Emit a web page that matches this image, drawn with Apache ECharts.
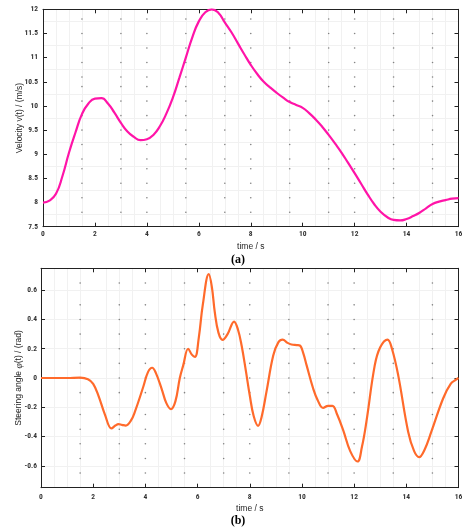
<!DOCTYPE html>
<html>
<head>
<meta charset="utf-8">
<script src="https://cdn.jsdelivr.net/npm/echarts@6/dist/echarts.min.js"></script>
<style>
  html, body { margin: 0; padding: 0; background: #fff; }
  #chart { width: 462px; height: 529px; }
</style>
</head>
<body>
<div id="chart"></div>
<script>
// (a) velocity, read every 0.25 s
const velTime = [0, 0.25, 0.5, 0.75, 1, 1.25, 1.5, 1.75, 2, 2.25, 2.5, 2.75, 3, 3.25, 3.5, 3.75,
  4, 4.25, 4.5, 4.75, 5, 5.25, 5.5, 5.75, 6, 6.25, 6.5, 6.75, 7, 7.25, 7.5, 7.75, 8, 8.25, 8.5,
  8.75, 9, 9.25, 9.5, 9.75, 10, 10.25, 10.5, 10.75, 11, 11.25, 11.5, 11.75, 12, 12.25, 12.5,
  12.75, 13, 13.25, 13.5, 13.75, 14, 14.25, 14.5, 14.75, 15, 15.25, 15.5, 15.75, 16];
const velocity = [8.0, 8.04, 8.18, 8.55, 9.03, 9.45, 9.83, 10.05, 10.15, 10.16, 10.05, 9.86,
  9.65, 9.47, 9.36, 9.29, 9.31, 9.4, 9.58, 9.84, 10.17, 10.58, 11.0, 11.42, 11.75, 11.94, 12.0,
  11.93, 11.73, 11.53, 11.3, 11.07, 10.85, 10.66, 10.5, 10.38, 10.27, 10.17, 10.08, 10.02, 9.96,
  9.85, 9.72, 9.57, 9.4, 9.22, 9.03, 8.82, 8.61, 8.39, 8.17, 7.97, 7.81, 7.7, 7.64, 7.63, 7.66,
  7.72, 7.79, 7.88, 7.97, 8.02, 8.05, 8.08, 8.09];

// (b) steering angle
const steerTime = [0, 0.5, 1, 1.5, 1.8, 2, 2.2, 2.45, 2.7, 2.85, 2.97, 3.1, 3.25, 3.45, 3.6,
  3.92, 4.1, 4.26, 4.4, 4.62, 4.8, 4.98, 5.15, 5.32, 5.45, 5.64, 5.78, 5.9, 6.05, 6.2, 6.43,
  6.55, 6.66, 6.8, 6.96, 7.15, 7.4, 7.55, 7.69, 7.85, 8, 8.15, 8.32, 8.45, 8.64, 8.9, 9.1,
  9.26, 9.45, 9.6, 9.8, 9.92, 10.05, 10.18, 10.43, 10.6, 10.81, 11, 11.17, 11.35, 11.58,
  11.85, 12.13, 12.3, 12.47, 12.79, 13, 13.28, 13.45, 13.69, 14.07, 14.3, 14.49, 14.7,
  14.96, 15.41, 15.7, 15.92, 16];
const steerAngle = [0, 0, 0, 0.003, -0.008, -0.04, -0.12, -0.25, -0.345, -0.325, -0.315,
  -0.32, -0.325, -0.29, -0.23, -0.06, 0.04, 0.07, 0.035, -0.072, -0.17, -0.213, -0.16, 0,
  0.086, 0.2, 0.16, 0.145, 0.28, 0.5, 0.71, 0.62, 0.45, 0.31, 0.26, 0.3, 0.386, 0.33, 0.22,
  0.05, -0.118, -0.26, -0.327, -0.27, -0.095, 0.154, 0.245, 0.263, 0.24, 0.229, 0.225, 0.222,
  0.17, 0.086, -0.072, -0.15, -0.205, -0.19, -0.19, -0.25, -0.356, -0.5, -0.571, -0.47, -0.3,
  0.086, 0.21, 0.263, 0.2, 0.018, -0.367, -0.5, -0.541, -0.49, -0.367, -0.14, -0.04, -0.01, 0];

// dotted background grid (dots only where rows and columns cross)
const dotTimes = [1.5, 3, 4, 5.5, 7, 8, 9.5, 11, 12, 13.5, 15];
const velDotRows = [11.8, 11.5, 11.2, 10.9, 10.6, 10.4, 10.1, 9.8, 9.5, 9.2, 8.9, 8.7, 8.4, 8.1, 7.8];
const steerDotRows = [0.65, 0.5, 0.4, 0.3, 0.2, 0.1, 0, -0.1, -0.25, -0.35, -0.45, -0.55, -0.65];
const steerTicks = [-0.6, -0.4, -0.2, 0, 0.2, 0.4, 0.6];

const labelFont = {
  fontFamily: '"Roboto Condensed", "DejaVu Sans Condensed", sans-serif',
  fontSize: 7.5,
  fontWeight: 'bold',
  color: '#333',
};
const nameFont = { fontFamily: '"Liberation Sans", Arial, sans-serif', fontSize: 8.5, color: '#222' };
const frame = { onZero: false, lineStyle: { color: '#222', width: 1 } };
const tickIn = { inside: true, length: 4, lineStyle: { color: '#222' } };
const faint = { show: true, lineStyle: { color: '#f1f1f1', width: 1 } };

const timeAxis = (g, margin, gap) => ({
  type: 'value', gridIndex: g, min: 0, max: 16, interval: 2,
  name: 'time / s', nameLocation: 'middle', nameGap: gap, nameTextStyle: nameFont,
  nameMoveOverlap: false,
  axisLine: frame, axisTick: tickIn,
  axisLabel: { ...labelFont, margin: margin },
  splitLine: { show: false },
  minorTick: { show: false, splitNumber: 4 },
  minorSplitLine: faint,
});
const topAxis = (g) => ({
  type: 'value', gridIndex: g, position: 'top', min: 0, max: 16, interval: 2,
  axisLine: frame, axisTick: tickIn, axisLabel: { show: false }, splitLine: { show: false },
});

const dots = (rows) => dotTimes.flatMap((t) => rows.map((v) => [t, v]));

const chart = echarts.init(document.getElementById('chart'));
chart.setOption({
  animation: false,
  backgroundColor: '#fff',
  grid: [
    { left: 43, right: 3.5, top: 9.3, height: 217.4, outerBoundsMode: 'none', containLabel: false },
    { left: 41, right: 3.5, top: 268.3, height: 219.4, outerBoundsMode: 'none', containLabel: false },
  ],
  xAxis: [timeAxis(0, 3, 15), topAxis(0), timeAxis(1, 5, 16), topAxis(1)],
  yAxis: [
    {
      type: 'value', gridIndex: 0, min: 7.5, max: 12, interval: 0.5,
      name: 'Velocity v(t) / (m/s)', nameLocation: 'middle', nameGap: 18.5, nameTextStyle: nameFont,
      nameMoveOverlap: false,
      axisLine: frame, axisTick: tickIn,
      axisLabel: { ...labelFont, margin: 5 },
      splitLine: { show: false },
      minorTick: { show: false, splitNumber: 2 },
      minorSplitLine: faint,
    },
    {
      type: 'value', gridIndex: 0, position: 'right', min: 7.5, max: 12, interval: 0.5,
      axisLine: frame, axisTick: tickIn, axisLabel: { show: false }, splitLine: { show: false },
    },
    {
      type: 'value', gridIndex: 1, min: -0.75, max: 0.75,
      name: '{a|Steering angle }{p|φ}{a|(t) / (rad)}', nameLocation: 'middle', nameGap: 17,
      nameMoveOverlap: false,
      nameTextStyle: {
        ...nameFont,
        rich: {
          a: nameFont,
          p: { fontFamily: '"Liberation Serif", serif', fontStyle: 'italic', fontSize: 9.5, color: '#222' },
        },
      },
      axisLine: frame,
      axisTick: { ...tickIn, customValues: steerTicks },
      axisLabel: { ...labelFont, margin: 4, customValues: steerTicks },
      splitLine: faint,
    },
    {
      type: 'value', gridIndex: 1, position: 'right', min: -0.75, max: 0.75,
      axisLine: frame,
      axisTick: { ...tickIn, customValues: steerTicks },
      axisLabel: { show: false, customValues: steerTicks },
      splitLine: { show: false },
    },
  ],
  graphic: [
    { type: 'text', x: 238, y: 260, style: { text: '(a)', align: 'center', verticalAlign: 'middle',
      font: 'bold 12px "Liberation Serif", serif', fill: '#000' } },
    { type: 'text', x: 238, y: 521, style: { text: '(b)', align: 'center', verticalAlign: 'middle',
      font: 'bold 12px "Liberation Serif", serif', fill: '#000' } },
  ],
  series: [
    {
      type: 'scatter', xAxisIndex: 0, yAxisIndex: 0, silent: true, z: 1,
      symbolSize: 1.6, itemStyle: { color: '#666' }, data: dots(velDotRows),
    },
    {
      type: 'line', xAxisIndex: 0, yAxisIndex: 0, z: 3,
      showSymbol: false, smooth: 0.5,
      lineStyle: { color: '#ff14a8', width: 2.2 },
      data: velTime.map((t, i) => [t, velocity[i]]),
    },
    {
      type: 'scatter', xAxisIndex: 2, yAxisIndex: 2, silent: true, z: 1,
      symbolSize: 1.6, itemStyle: { color: '#666' }, data: dots(steerDotRows),
    },
    {
      type: 'line', xAxisIndex: 2, yAxisIndex: 2, z: 3,
      showSymbol: false, smooth: 0.4,
      lineStyle: { color: '#ff6a2b', width: 2.2 },
      data: steerTime.map((t, i) => [t, steerAngle[i]]),
    },
  ],
});
</script>
</body>
</html>
